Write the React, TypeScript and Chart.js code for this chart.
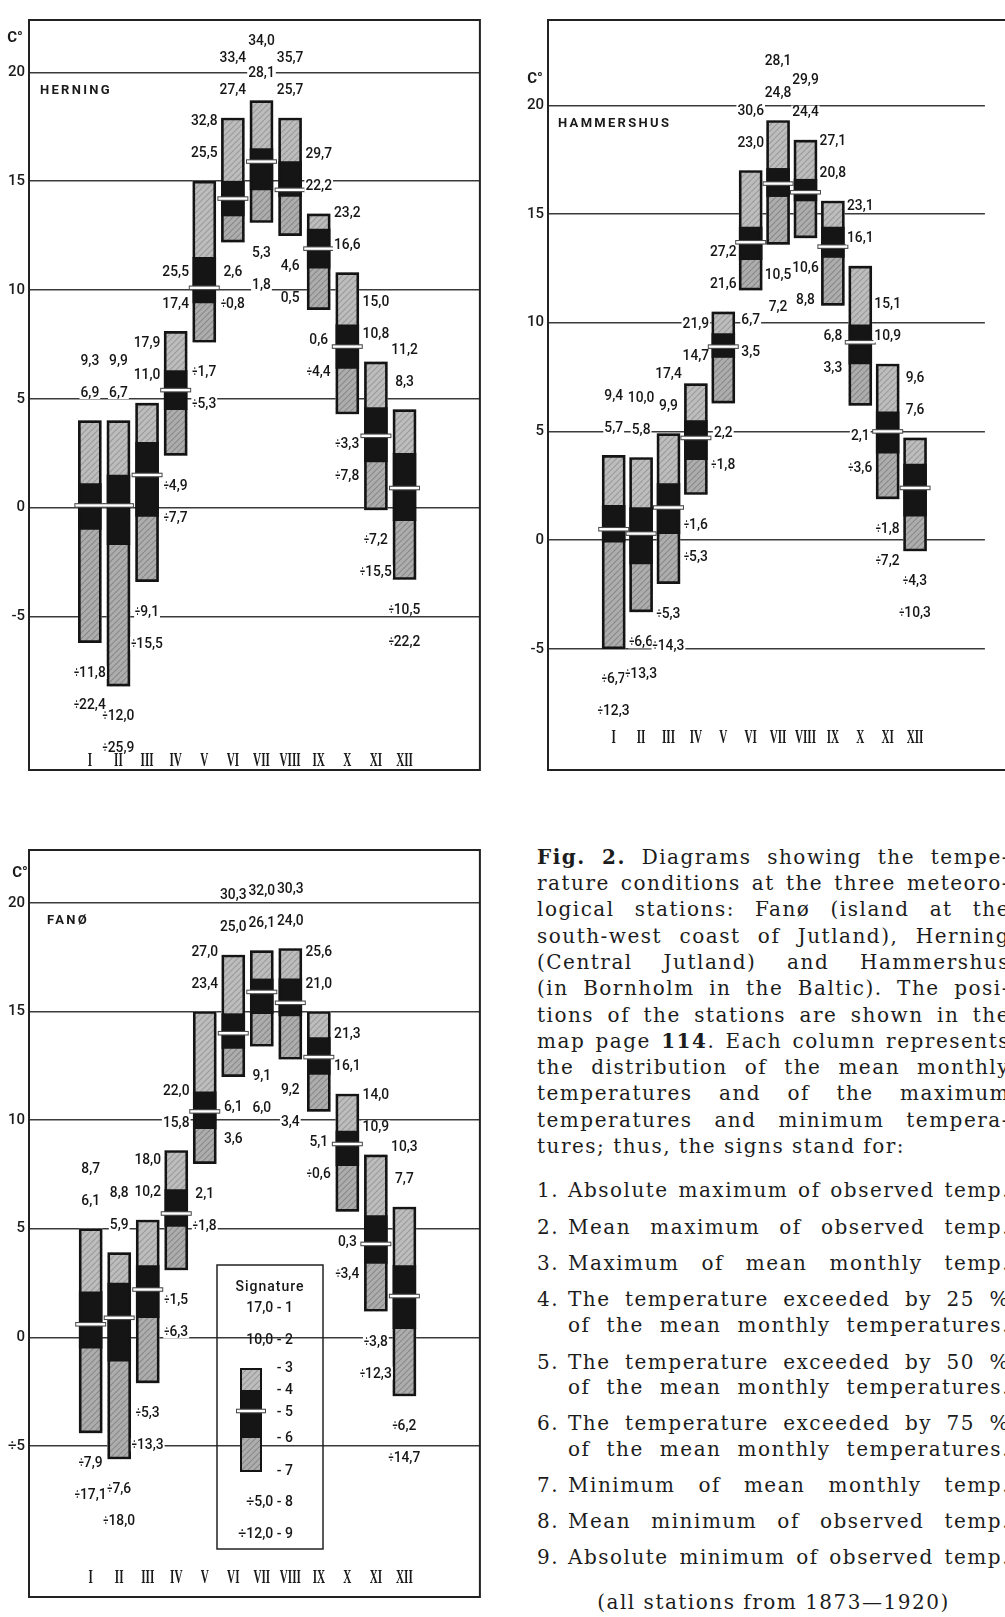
import React, { useEffect, useRef } from 'react';
import Chart from 'chart.js/auto';

const MONTHS = ['I', 'II', 'III', 'IV', 'V', 'VI', 'VII', 'VIII', 'IX', 'X', 'XI', 'XII'];
const Y_TICKS = [-5, 0, 5, 10, 15, 20];

// HERNING (°C)
const HERNING_ABS_MAX = [9.3, 9.9, 17.9, 25.5, 32.8, 33.4, 34.0, 35.7, 29.7, 23.2, 15.0, 11.2];
const HERNING_MEAN_MAX = [6.9, 6.7, 11.0, 17.4, 25.5, 27.4, 28.1, 25.7, 22.2, 16.6, 10.8, 8.3];
const HERNING_MAX_MEAN = [4.0, 4.0, 4.8, 8.1, 15.0, 17.9, 18.7, 17.9, 13.5, 10.8, 6.7, 4.5];
const HERNING_P25 = [1.1, 1.5, 3.0, 6.3, 11.5, 15.0, 16.5, 15.9, 12.8, 8.4, 4.6, 2.5];
const HERNING_P50 = [0.1, 0.1, 1.5, 5.4, 10.1, 14.2, 15.9, 14.6, 11.9, 7.4, 3.3, 0.9];
const HERNING_P75 = [-1.0, -1.7, -0.4, 4.5, 9.4, 13.4, 14.6, 14.3, 11.0, 6.4, 2.1, -0.6];
const HERNING_MIN_MEAN = [-6.2, -8.2, -3.4, 2.4, 7.6, 12.2, 13.1, 12.5, 9.1, 4.3, -0.1, -3.3];
const HERNING_MEAN_MIN = [-11.8, -12.0, -9.1, -4.9, -1.7, 2.6, 5.3, 4.6, 0.6, -3.3, -7.2, -10.5];
const HERNING_ABS_MIN = [-22.4, -25.9, -15.5, -7.7, -5.3, -0.8, 1.8, 0.5, -4.4, -7.8, -15.5, -22.2];

// HAMMERSHUS (°C)
const HAMMERSHUS_ABS_MAX = [9.4, 10.0, 17.4, 21.9, 27.2, 30.6, 28.1, 29.9, 27.1, 23.1, 15.1, 9.6];
const HAMMERSHUS_MEAN_MAX = [5.7, 5.8, 9.9, 14.7, 21.6, 23.0, 24.8, 24.4, 20.8, 16.1, 10.9, 7.6];
const HAMMERSHUS_MAX_MEAN = [3.9, 3.8, 4.9, 7.2, 10.5, 17.0, 19.3, 18.4, 15.6, 12.6, 8.1, 4.7];
const HAMMERSHUS_P25 = [1.6, 1.5, 2.6, 5.5, 9.5, 14.4, 17.1, 16.6, 14.4, 9.9, 5.9, 3.5];
const HAMMERSHUS_P50 = [0.5, 0.3, 1.5, 4.7, 8.9, 13.7, 16.4, 16.0, 13.5, 9.1, 5.0, 2.4];
const HAMMERSHUS_P75 = [-0.1, -1.1, 0.3, 3.7, 8.4, 12.9, 15.8, 15.6, 13.0, 8.1, 4.0, 1.1];
const HAMMERSHUS_MIN_MEAN = [-5.0, -3.3, -2.0, 2.1, 6.3, 11.5, 13.6, 13.9, 10.8, 6.2, 1.9, -0.5];
const HAMMERSHUS_MEAN_MIN = [-6.7, -6.6, -5.3, -1.6, 2.2, 6.7, 10.5, 10.6, 6.8, 2.1, -1.8, -4.3];
const HAMMERSHUS_ABS_MIN = [-12.3, -13.3, -14.3, -5.3, -1.8, 3.5, 7.2, 8.8, 3.3, -3.6, -7.2, -10.3];

// FANØ (°C)
const FANO_ABS_MAX = [8.7, 8.8, 18.0, 22.0, 27.0, 30.3, 32.0, 30.3, 25.6, 21.3, 14.0, 10.3];
const FANO_MEAN_MAX = [6.1, 5.9, 10.2, 15.8, 23.4, 25.0, 26.1, 24.0, 21.0, 16.1, 10.9, 7.7];
const FANO_MAX_MEAN = [5.0, 3.9, 5.4, 8.6, 15.0, 17.6, 17.8, 17.9, 15.0, 11.2, 8.4, 6.0];
const FANO_P25 = [2.1, 2.5, 3.3, 6.8, 11.3, 14.9, 16.5, 16.5, 13.8, 9.5, 5.6, 3.3];
const FANO_P50 = [0.6, 0.9, 2.2, 5.7, 10.4, 14.0, 15.9, 15.4, 12.9, 8.9, 4.3, 1.9];
const FANO_P75 = [-0.5, -1.1, 0.9, 5.1, 9.6, 13.3, 14.9, 14.8, 12.1, 7.9, 3.4, 0.4];
const FANO_MIN_MEAN = [-4.4, -5.6, -2.1, 3.1, 8.0, 12.0, 13.4, 12.8, 10.4, 5.8, 1.2, -2.7];
const FANO_MEAN_MIN = [-7.9, -7.6, -5.3, -1.5, 2.1, 6.1, 9.1, 9.2, 5.1, 0.3, -3.8, -6.2];
const FANO_ABS_MIN = [-17.1, -18.0, -13.3, -6.3, -1.8, 3.6, 6.0, 3.4, -0.6, -3.4, -12.3, -14.7];

type Station = {
  title: string;
  absMax: number[]; meanMax: number[]; maxMean: number[];
  p25: number[]; p50: number[]; p75: number[];
  minMean: number[]; meanMin: number[]; absMin: number[];
};

const HERNING: Station = {
  title: 'HERNING', absMax: HERNING_ABS_MAX, meanMax: HERNING_MEAN_MAX, maxMean: HERNING_MAX_MEAN,
  p25: HERNING_P25, p50: HERNING_P50, p75: HERNING_P75, minMean: HERNING_MIN_MEAN,
  meanMin: HERNING_MEAN_MIN, absMin: HERNING_ABS_MIN,
};
const HAMMERSHUS: Station = {
  title: 'HAMMERSHUS', absMax: HAMMERSHUS_ABS_MAX, meanMax: HAMMERSHUS_MEAN_MAX, maxMean: HAMMERSHUS_MAX_MEAN,
  p25: HAMMERSHUS_P25, p50: HAMMERSHUS_P50, p75: HAMMERSHUS_P75, minMean: HAMMERSHUS_MIN_MEAN,
  meanMin: HAMMERSHUS_MEAN_MIN, absMin: HAMMERSHUS_ABS_MIN,
};
const FANO: Station = {
  title: 'FANØ', absMax: FANO_ABS_MAX, meanMax: FANO_MEAN_MAX, maxMean: FANO_MAX_MEAN,
  p25: FANO_P25, p50: FANO_P50, p75: FANO_P75, minMean: FANO_MIN_MEAN,
  meanMin: FANO_MEAN_MIN, absMin: FANO_ABS_MIN,
};

type Panel = {
  station: Station;
  left: number; top: number; width: number; height: number;
  axisW: number; padTop: number; padRight: number; padBottom: number;
  xMin: number; xMax: number; yMin: number; yMax: number;
  rightBorder: boolean; titleDx: number; cdx: number; cdy: number; monthUp: number;
  minus: string; legend: boolean;
};

const PANELS: Panel[] = [
  { station: HERNING, left: 0, top: 0, width: 500, height: 790, axisW: 29, padTop: 7, padRight: 12, padBottom: 10,
    xMin: -0.142, xMax: 13.65, yMin: -12.05, yMax: 22.4, rightBorder: true, titleDx: 11, cdx: -14, cdy: -34, monthUp: 10, minus: '-', legend: false },
  { station: HAMMERSHUS, left: 505, top: 0, width: 500, height: 790, axisW: 43, padTop: 11, padRight: 1, padBottom: 12,
    xMin: -0.259, xMax: 13.41, yMin: -10.57, yMax: 23.92, rightBorder: false, titleDx: 10, cdx: -13, cdy: -26, monthUp: 33, minus: '-', legend: false },
  { station: FANO, left: 0, top: 830, width: 500, height: 787, axisW: 29, padTop: 17, padRight: 12, padBottom: 2,
    xMin: -0.175, xMax: 13.66, yMin: -11.95, yMax: 22.43, rightBorder: true, titleDx: 18, cdx: -9, cdy: -30, monthUp: 20, minus: '\u00f7', legend: true },
];

const fmt = (v: number) => (v < 0 ? '\u00f7' : '') + Math.abs(v).toFixed(1).replace('.', ',');

function hatch(base: string, line: string) {
  const c = document.createElement('canvas');
  c.width = 6; c.height = 6;
  const g = c.getContext('2d')!;
  g.fillStyle = base; g.fillRect(0, 0, 6, 6);
  g.strokeStyle = line; g.lineWidth = 1.1;
  g.beginPath();
  for (const o of [-6, 0, 6]) { g.moveTo(o, 6); g.lineTo(o + 6, 0); }
  g.stroke();
  return g.createPattern(c, 'repeat')!;
}

const DIGIT_SX = 0.92;
const SIGN_SX = 0.6;

function makeDecor(p: Panel, pats: { light: CanvasPattern; dark: CanvasPattern }) {
  return {
    id: 'decor',
    afterDatasetsDraw(chart: any) {
      const ctx: CanvasRenderingContext2D = chart.ctx;
      const a = chart.chartArea;
      const xs = chart.scales.x;
      const ys = chart.scales.y;
      const s = p.station;
      ctx.save();
      // frame
      ctx.strokeStyle = '#222';
      ctx.lineWidth = 2;
      ctx.beginPath();
      if (p.rightBorder) {
        ctx.rect(a.left, a.top, a.right - a.left, a.bottom - a.top);
      } else {
        ctx.moveTo(chart.width + 2, a.top); ctx.lineTo(a.left, a.top);
        ctx.lineTo(a.left, a.bottom); ctx.lineTo(chart.width + 2, a.bottom);
      }
      ctx.stroke();

      // value labels (sign drawn narrower, like the original typesetting)
      (ctx as any).letterSpacing = '0px';
      ctx.font = '500 15px Roboto';
      ctx.textBaseline = 'middle';
      ctx.textAlign = 'left';
      const label = (t: string, x: number, y: number) => {
        const neg = t.charAt(0) === '\u00f7';
        const sign = neg ? '\u00f7' : '';
        const body = neg ? t.slice(1) : t;
        const ws = neg ? ctx.measureText(sign).width * SIGN_SX : 0;
        const wb = ctx.measureText(body).width * DIGIT_SX;
        const w = ws + wb;
        const x0 = x - w / 2;
        ctx.fillStyle = '#fff';
        ctx.fillRect(x0 - 1, y - 6.5, w + 2, 13);
        ctx.fillStyle = '#161616';
        if (neg) {
          ctx.save(); ctx.translate(x0, y + 0.5); ctx.scale(SIGN_SX, 1); ctx.fillText(sign, 0, 0); ctx.restore();
        }
        ctx.save(); ctx.translate(x0 + ws, y + 0.5); ctx.scale(DIGIT_SX, 1); ctx.fillText(body, 0, 0); ctx.restore();
      };
      for (let i = 0; i < MONTHS.length; i++) {
        const cx = xs.getPixelForValue(i + 1);
        const top = ys.getPixelForValue(s.maxMean[i]);
        const bot = ys.getPixelForValue(s.minMean[i]);
        label(fmt(s.absMax[i]), cx, top - 60);
        label(fmt(s.meanMax[i]), cx, top - 28);
        label(fmt(s.meanMin[i]), cx, bot + 30);
        label(fmt(s.absMin[i]), cx, bot + 62);
      }

      // month numerals
      ctx.textAlign = 'center';
      ctx.fillStyle = '#1a1a1a';
      ctx.font = 'bold 18px "Liberation Serif"';
      for (let i = 0; i < MONTHS.length; i++) {
        const cx = xs.getPixelForValue(i + 1);
        ctx.save();
        ctx.translate(cx, a.bottom - p.monthUp + 1);
        ctx.scale(0.62, 1);
        ctx.fillText(MONTHS[i], 0, 0);
        ctx.restore();
      }

      // station title and unit
      const y20 = ys.getPixelForValue(20);
      ctx.font = 'bold 13px Roboto';
      (ctx as any).letterSpacing = '2.3px';
      ctx.textAlign = 'left';
      ctx.fillText(s.title, a.left + p.titleDx, y20 + 18);
      (ctx as any).letterSpacing = '0px';
      ctx.font = 'bold 15px Roboto';
      ctx.textAlign = 'center';
      ctx.fillText('C°', a.left + p.cdx, y20 + p.cdy);

      if (p.legend) {
        ctx.strokeStyle = '#222';
        ctx.lineWidth = 1.5;
        ctx.strokeRect(217, 435, 106, 284);
        ctx.fillStyle = '#161616';
        ctx.font = '500 14px Roboto';
        (ctx as any).letterSpacing = '1px';
        ctx.fillText('Signature', 270, 457);
        (ctx as any).letterSpacing = '0px';
        ctx.textAlign = 'right';
        ctx.fillText('17,0 - 1', 293, 478);
        ctx.fillText('10,0 - 2', 293, 510);
        const bx = 240, bw = 22;
        ctx.fillStyle = pats.light; ctx.fillRect(bx, 538, bw, 22);
        ctx.fillStyle = '#151515'; ctx.fillRect(bx, 560, bw, 48);
        ctx.fillStyle = pats.dark; ctx.fillRect(bx, 608, bw, 34);
        ctx.strokeStyle = '#141414'; ctx.lineWidth = 2;
        ctx.strokeRect(bx + 1, 539, bw - 2, 102);
        ctx.strokeStyle = '#4a4a4a'; ctx.lineWidth = 4.6;
        ctx.beginPath(); ctx.moveTo(bx - 4, 581); ctx.lineTo(bx + bw + 4, 581); ctx.stroke();
        ctx.strokeStyle = '#fff'; ctx.lineWidth = 2.4;
        ctx.beginPath(); ctx.moveTo(bx - 3, 581); ctx.lineTo(bx + bw + 3, 581); ctx.stroke();
        ctx.fillStyle = '#161616';
        ctx.fillText('- 3', 293, 538);
        ctx.fillText('- 4', 293, 560);
        ctx.fillText('- 5', 293, 582);
        ctx.fillText('- 6', 293, 608);
        ctx.fillText('- 7', 293, 641);
        ctx.fillText('\u00f75,0 - 8', 293, 672);
        ctx.fillText('\u00f712,0 - 9', 293, 704);
      }
      ctx.restore();
    },
  };
}

function buildChart(canvas: HTMLCanvasElement, p: Panel, pats: { light: CanvasPattern; dark: CanvasPattern }) {
  const s = p.station;
  const pts = (arr: number[]) => arr.map((v, i) => ({ x: i + 1, y: v }));
  const rng = (lo: number[], hi: number[]) => lo.map((v, i) => ({ x: i + 1, y: [v, hi[i]] }));
  const bar = { type: 'bar', grouped: false, barThickness: 23, maxBarThickness: 23, borderSkipped: false, borderWidth: 0 };
  return new Chart(canvas, {
    type: 'bar',
    data: {
      datasets: [
        { type: 'line', data: pts(s.p50), showLine: false, pointStyle: 'line', pointRadius: 14.5, pointBorderWidth: 2.4, pointBorderColor: '#ffffff', pointBackgroundColor: '#ffffff', order: 0 },
        { type: 'line', data: pts(s.p50), showLine: false, pointStyle: 'line', pointRadius: 15.5, pointBorderWidth: 4.6, pointBorderColor: '#4a4a4a', pointBackgroundColor: '#4a4a4a', order: 1 },
        { ...bar, data: rng(s.minMean, s.maxMean), backgroundColor: 'rgba(0,0,0,0)', borderColor: '#141414', borderWidth: 2, order: 2 },
        { ...bar, data: rng(s.p75, s.p25), backgroundColor: '#151515', order: 3 },
        { ...bar, data: rng(s.p25, s.maxMean), backgroundColor: pats.light, order: 4 },
        { ...bar, data: rng(s.minMean, s.p75), backgroundColor: pats.dark, order: 5 },
      ] as any,
    },
    options: {
      animation: false,
      responsive: false,
      events: [],
      layout: { padding: { left: 0, top: p.padTop, right: p.padRight, bottom: p.padBottom } },
      plugins: { legend: { display: false }, tooltip: { enabled: false } },
      scales: {
        x: { type: 'linear', min: p.xMin, max: p.xMax, display: false },
        y: {
          type: 'linear', min: p.yMin, max: p.yMax,
          afterBuildTicks: (ax: any) => { ax.ticks = Y_TICKS.map((v) => ({ value: v })); },
          afterFit: (ax: any) => { ax.width = p.axisW; ax.paddingTop = 0; ax.paddingBottom = 0; },
          grid: { color: '#3a3a3a', lineWidth: 1.6, drawTicks: false },
          border: { display: false },
          ticks: {
            padding: 4, color: '#1c1c1c', font: { family: 'Roboto', size: 15, weight: '500' },
            callback: (v: any) => (v < 0 ? p.minus + Math.abs(v) : String(v)),
          },
        },
      },
    } as any,
    plugins: [makeDecor(p, pats)],
  });
}

const CAP: React.CSSProperties = {
  position: 'absolute', fontFamily: '"DejaVu Serif", serif', fontSize: 20, letterSpacing: '1.5px',
  lineHeight: '26px', height: 26, whiteSpace: 'nowrap', color: '#1c1c1c',
  textAlign: 'justify', textAlignLast: 'justify' as any,
};

const PARA_LINES: React.ReactNode[] = [
  <><b>Fig. 2.</b> Diagrams showing the tempe-</>,
  'rature conditions at the three meteoro-',
  'logical stations: Fanø (island at the',
  'south-west coast of Jutland), Herning',
  '(Central Jutland) and Hammershus',
  '(in Bornholm in the Baltic). The posi-',
  'tions of the stations are shown in the',
  <>map page <b>114</b>. Each column represents</>,
  'the distribution of the mean monthly',
  'temperatures and of the maximum',
  'temperatures and minimum tempera-',
];
const PARA_LAST = 'tures; thus, the signs stand for:';
const PARA_Y = [857, 883, 909, 936, 962, 988, 1015, 1041, 1067, 1093, 1120, 1146];

const ITEMS: { n: string; lines: string[]; y: number[] }[] = [
  { n: '1.', lines: ['Absolute maximum of observed temp.'], y: [1190] },
  { n: '2.', lines: ['Mean maximum of observed temp.'], y: [1227] },
  { n: '3.', lines: ['Maximum of mean monthly temp.'], y: [1263] },
  { n: '4.', lines: ['The temperature exceeded by 25 %', 'of the mean monthly temperatures.'], y: [1299, 1325] },
  { n: '5.', lines: ['The temperature exceeded by 50 %', 'of the mean monthly temperatures.'], y: [1362, 1387] },
  { n: '6.', lines: ['The temperature exceeded by 75 %', 'of the mean monthly temperatures.'], y: [1423, 1449] },
  { n: '7.', lines: ['Minimum of mean monthly temp.'], y: [1485] },
  { n: '8.', lines: ['Mean minimum of observed temp.'], y: [1521] },
  { n: '9.', lines: ['Absolute minimum of observed temp.'], y: [1557] },
];

export default function App() {
  const r0 = useRef<HTMLCanvasElement>(null);
  const r1 = useRef<HTMLCanvasElement>(null);
  const r2 = useRef<HTMLCanvasElement>(null);
  const refs = [r0, r1, r2];

  useEffect(() => {
    const pats = { light: hatch('#bdbdbd', '#9a9a9a'), dark: hatch('#adadad', '#888888') };
    const charts = PANELS.map((p, i) => buildChart(refs[i].current!, p, pats));
    return () => charts.forEach((c) => c.destroy());
  }, []);

  return (
    <div style={{ position: 'fixed', left: 0, top: 0, width: 1005, height: 1617, overflow: 'hidden', background: '#fff' }}>
      {PANELS.map((p, i) => (
        <canvas key={i} ref={refs[i]} width={p.width} height={p.height}
          style={{ position: 'absolute', left: p.left, top: p.top, width: p.width, height: p.height }} />
      ))}
      {PARA_LINES.map((l, i) => (
        <div key={'p' + i} style={{ ...CAP, left: 537, width: 473, top: PARA_Y[i] - 13 }}>{l}</div>
      ))}
      <div style={{ ...CAP, left: 537, width: 473, top: PARA_Y[11] - 13, textAlign: 'left', textAlignLast: 'left' as any }}>{PARA_LAST}</div>
      {ITEMS.map((it) => (
        <React.Fragment key={it.n}>
          <div style={{ ...CAP, left: 537, top: it.y[0] - 13, textAlign: 'left', textAlignLast: 'left' as any }}>{it.n}</div>
          {it.lines.map((l, j) => (
            <div key={j} style={{ ...CAP, left: 568, width: 442, top: it.y[j] - 13 }}>{l}</div>
          ))}
        </React.Fragment>
      ))}
      <div style={{ ...CAP, left: 537, width: 473, top: 1602 - 13, textAlign: 'center', textAlignLast: 'center' as any }}>(all stations from 1873—1920)</div>
    </div>
  );
}
